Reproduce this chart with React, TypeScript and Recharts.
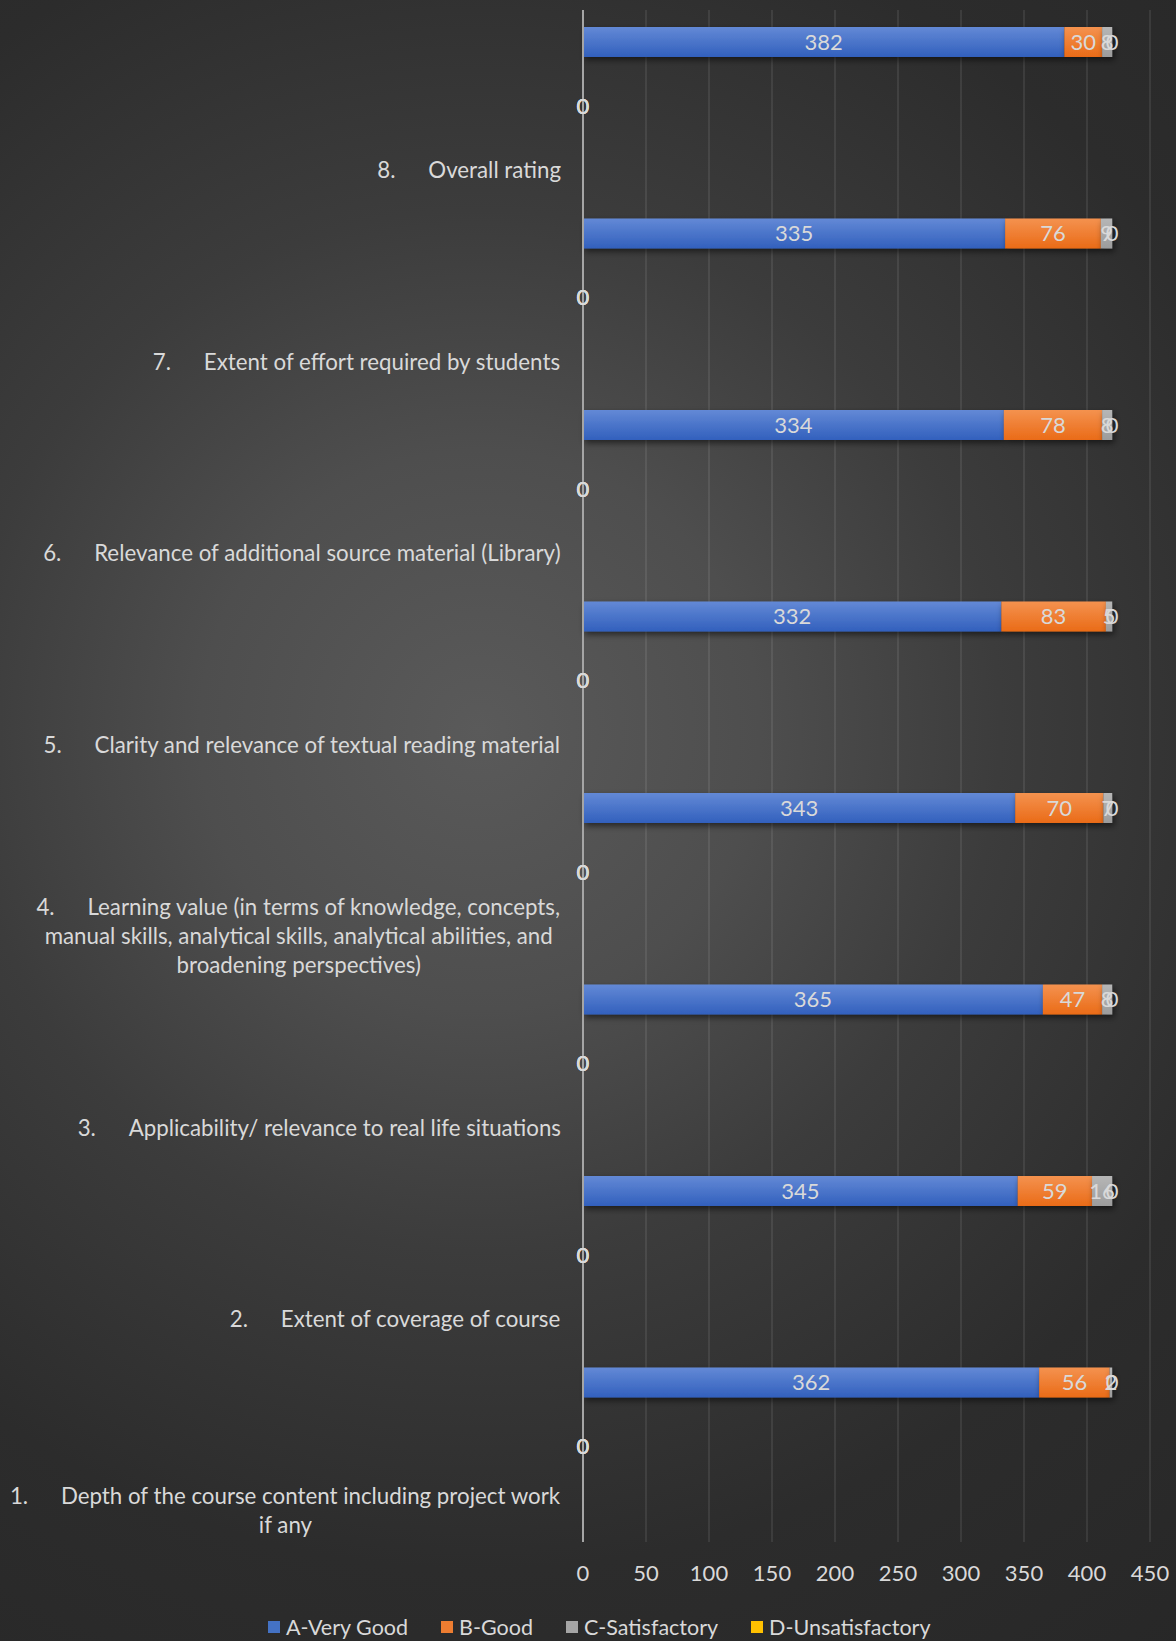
import React from 'react';
import { BarChart, Bar, XAxis, YAxis, CartesianGrid, Legend, LabelList } from 'recharts';

// ---------- data (top row first) ----------
const categoryNumbers = ['8.', '7.', '6.', '5.', '4.', '3.', '2.', '1.'];
const categoryNames = [
  'Overall rating',
  'Extent of effort required by students',
  'Relevance of additional source material (Library)',
  'Clarity and relevance of textual reading material',
  'Learning value (in terms of knowledge, concepts,\nmanual skills, analytical skills, analytical abilities, and\nbroadening perspectives)',
  'Applicability/ relevance to real life situations',
  'Extent of coverage of course',
  'Depth of the course content including project work\nif any',
];
const veryGood = [382, 335, 334, 332, 343, 365, 345, 362];
const good = [30, 76, 78, 83, 70, 47, 59, 56];
const satisfactory = [8, 9, 8, 5, 7, 8, 16, 2];
const unsatisfactory = [0, 0, 0, 0, 0, 0, 0, 0];
// second (empty) series group shown as "0" labels
const veryGood2 = [0, 0, 0, 0, 0, 0, 0, 0];
const good2 = [0, 0, 0, 0, 0, 0, 0, 0];
const satisfactory2 = [0, 0, 0, 0, 0, 0, 0, 0];
const unsatisfactory2 = [0, 0, 0, 0, 0, 0, 0, 0];
const xTicks = [0, 50, 100, 150, 200, 250, 300, 350, 400, 450];
const seriesNames = ['A-Very Good', 'B-Good', 'C-Satisfactory', 'D-Unsatisfactory'];

// ---------- styling ----------
const FONT = 'Lato, "Open Sans", sans-serif';
const FS = 22;
const CAT_FS = 22.3;
const LEG_FS = 21.5;
const TEXT = '#D9D9D9';
const colors = ['#4472C4', '#ED7D31', '#A5A5A5', '#FFC000'];
const gradStops = [
  ['#6389d6', '#3260bd'],
  ['#f4924f', '#ea6b17'],
  ['#b6b6b6', '#9c9c9c'],
  ['#ffd24a', '#f2b600'],
];
const keys = ['a', 'b', 'c', 'd'];
const TAB = 51;

type Row = { key: string; kind: string; idx: number; a: number | null; b: number | null; c: number | null; d: number | null };

const data: Row[] = [];
categoryNumbers.forEach((_, i) => {
  data.push({ key: `bar-${i}`, kind: 'bar', idx: i, a: veryGood[i], b: good[i], c: satisfactory[i], d: unsatisfactory[i] });
  data.push({ key: `zero-${i}`, kind: 'zero', idx: i, a: veryGood2[i], b: good2[i], c: satisfactory2[i], d: unsatisfactory2[i] });
  data.push({ key: `label-${i}`, kind: 'label', idx: i, a: null, b: null, c: null, d: null });
});
const rowByKey: Record<string, Row> = {};
data.forEach((r) => (rowByKey[r.key] = r));

let ctx: CanvasRenderingContext2D | null = null;
function textWidth(s: string) {
  if (!ctx && typeof document !== 'undefined') ctx = document.createElement('canvas').getContext('2d');
  if (!ctx) return s.length * CAT_FS * 0.5;
  ctx.font = `${CAT_FS}px ${FONT}`;
  return ctx.measureText(s).width;
}

const YTick = (props: any) => {
  const { x, y, payload } = props;
  const row = rowByKey[payload.value];
  if (!row || row.kind !== 'label') return <g />;
  const lines = categoryNames[row.idx].split('\n');
  const widths = lines.map((l, i) => (i === 0 ? TAB + textWidth(l) : textWidth(l)));
  const W = Math.max(...widths);
  const center = x - W / 2;
  const LH = 29.3;
  const n = lines.length;
  return (
    <g fontFamily={FONT} fontSize={CAT_FS} fill={TEXT}>
      {lines.map((l, i) => {
        const ly = y + (i - (n - 1) / 2) * LH;
        if (i === 0) {
          const start = center - widths[0] / 2;
          return (
            <g key={i}>
              <text x={start} y={ly} textAnchor="start" dominantBaseline="central">{categoryNumbers[row.idx]}</text>
              <text x={start + TAB} y={ly} textAnchor="start" dominantBaseline="central">{l}</text>
            </g>
          );
        }
        return (
          <text key={i} x={center} y={ly} textAnchor="middle" dominantBaseline="central">{l}</text>
        );
      })}
    </g>
  );
};

const XTick = (props: any) => {
  const { x, y, payload } = props;
  return (
    <text x={x} y={y + 30} textAnchor="middle" dominantBaseline="central" fontFamily={FONT} fontSize={FS} fill={TEXT}>
      {payload.value}
    </text>
  );
};

const LegendContent = () => (
  <div style={{ display: 'flex', alignItems: 'center', height: 30, paddingLeft: 268, fontFamily: FONT, fontSize: LEG_FS, color: TEXT }}>
    {seriesNames.map((n, i) => (
      <div key={n} style={{ display: 'flex', alignItems: 'center', marginRight: 33 }}>
        <span style={{ display: 'inline-block', width: 12, height: 12, background: colors[i], marginRight: 6 }} />
        <span>{n}</span>
      </div>
    ))}
  </div>
);

const barShape = (i: number) => (p: any) => {
  if (!p.width || p.width <= 0 || !p.height) return <g />;
  return <rect x={p.x} y={p.y} width={p.width} height={p.height} fill={`url(#grad${i})`} filter="url(#barShadow)" />;
};

export default function App() {
  return (
    <div
      style={{
        position: 'absolute',
        left: 0,
        top: 0,
        width: 1176,
        height: 1641,
        background:
          'radial-gradient(circle at 480px 730px, #5a5a5a 0px, #4e4e4e 280px, #3c3c3c 520px, #2c2c2c 840px, #262626 1250px)',
      }}
    >
      <BarChart
        width={1176}
        height={1641}
        data={data}
        layout="vertical"
        margin={{ top: 10, right: 26, bottom: 0, left: 0 }}
        barSize={30}
      >
        <defs>
          {gradStops.map((g, i) => (
            <linearGradient key={i} id={`grad${i}`} x1="0" y1="0" x2="0" y2="1">
              <stop offset="0%" stopColor={g[0]} />
              <stop offset="100%" stopColor={g[1]} />
            </linearGradient>
          ))}
          <filter id="barShadow" filterUnits="userSpaceOnUse" x="0" y="0" width="1176" height="1641">
            <feDropShadow dx="2" dy="3" stdDeviation="3" floodColor="#000" floodOpacity="0.55" />
          </filter>
        </defs>
        <CartesianGrid horizontal={false} vertical stroke="rgba(255,255,255,0.11)" strokeWidth={1.5} />
        <XAxis
          type="number"
          domain={[0, 450]}
          ticks={xTicks}
          axisLine={false}
          tickLine={false}
          tickSize={0}
          tickMargin={0}
          height={69}
          tick={<XTick />}
          interval={0}
        />
        <YAxis
          type="category"
          dataKey="key"
          width={583}
          axisLine={{ stroke: '#a5a5a5', strokeWidth: 2 }}
          tickLine={false}
          tickSize={0}
          tickMargin={22}
          interval={0}
          tick={<YTick />}
        />
        <Legend
          verticalAlign="bottom"
          content={<LegendContent />}
          wrapperStyle={{ top: 1612, bottom: 'auto', left: 0, width: 1176, height: 30 }}
        />
        {keys.map((k, i) => (
          <Bar
            key={k}
            dataKey={k}
            name={seriesNames[i]}
            stackId="s"
            fill={colors[i]}
            isAnimationActive={false}
            shape={barShape(i)}
          >
            <LabelList dataKey={k} position="center" fill={TEXT} fontSize={FS} fontFamily={FONT} />
          </Bar>
        ))}
      </BarChart>
    </div>
  );
}
